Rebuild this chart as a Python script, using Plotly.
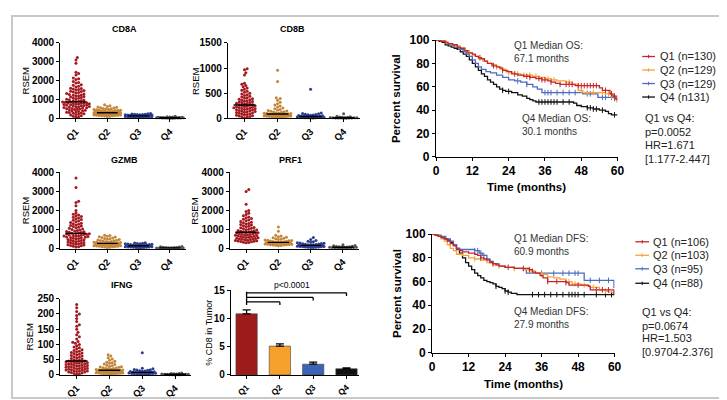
import numpy as np
import plotly.graph_objects as go

# ---------------- DATA ----------------
quartiles = ["Q1", "Q2", "Q3", "Q4"]

CD8A_Q1 = [3230, 3100, 2920, 2440, 2380, 2300, 2140, 2100, 2060, 1950, 1900, 1870, 1780, 1750, 1700, 1660, 1600, 1580, 1560, 1530, 1500, 1470, 1440, 1420, 1400, 1370, 1340, 1310, 1290, 1260, 1240, 1220, 1200, 1180, 1150, 1130, 1100, 1080, 1060, 1040, 1010, 990, 970, 950, 930, 910, 890, 870, 860, 850, 830, 820, 810, 800, 790, 775, 760, 745, 730, 715, 700, 690, 675, 660, 645, 630, 615, 600, 585, 570, 555, 540, 525, 510, 495, 480, 460, 440, 420, 400, 380, 360, 340, 320, 300, 280, 260, 240, 220, 200, 170, 140, 110, 80, 50]
CD8A_Q2 = [720, 660, 630, 600, 580, 560, 540, 525, 510, 495, 480, 465, 450, 440, 430, 420, 410, 400, 390, 380, 372, 365, 358, 350, 343, 336, 330, 323, 316, 310, 304, 298, 292, 286, 280, 275, 270, 265, 260, 255, 250, 245, 240, 235, 230, 225, 220, 214, 208, 202, 196, 190, 184, 178, 172, 166, 160, 152, 145, 138, 130, 120, 110, 100]
CD8A_Q3 = [255, 240, 228, 218, 210, 202, 195, 188, 182, 176, 170, 165, 160, 155, 150, 146, 142, 138, 134, 130, 126, 122, 119, 116, 113, 110, 106, 102, 98, 94, 90, 86, 82, 78, 74, 70, 65, 60, 55, 48]
CD8A_Q4 = [105, 82, 70, 62, 56, 50, 46, 42, 39, 36, 33, 31, 29, 27, 25, 23, 21, 19, 17, 15, 13, 11, 9, 7, 5]

CD8B_Q1 = [985, 965, 905, 860, 700, 680, 655, 630, 605, 580, 560, 540, 520, 500, 485, 470, 455, 440, 425, 410, 400, 390, 380, 370, 360, 350, 340, 332, 324, 316, 308, 300, 292, 284, 276, 268, 260, 252, 245, 238, 231, 225, 219, 213, 207, 201, 195, 189, 183, 177, 170, 163, 156, 149, 142, 135, 128, 121, 114, 107, 100, 92, 84, 76, 68, 60, 52, 44, 36, 28, 20, 12]
CD8B_Q2 = [955, 735, 410, 395, 360, 320, 290, 265, 245, 225, 205, 190, 175, 165, 155, 145, 138, 130, 124, 118, 112, 107, 102, 98, 94, 90, 87, 84, 81, 78, 75, 72, 70, 68, 66, 64, 62, 60, 58, 56, 54, 52, 50, 47, 44, 41, 38, 35, 32, 29, 26, 22, 18, 14]
CD8B_Q3 = [580, 105, 95, 88, 82, 76, 70, 64, 58, 54, 50, 46, 42, 39, 36, 33, 30, 28, 26, 24, 22, 20, 18, 16, 14, 12, 10, 8, 6, 4]
CD8B_Q4 = [92, 42, 32, 26, 22, 18, 15, 13, 11, 9, 8, 7, 6, 5, 4, 3, 2, 1]

GZMB_Q1 = [3700, 3200, 2480, 2420, 2250, 2000, 1860, 1800, 1760, 1720, 1680, 1640, 1600, 1560, 1520, 1480, 1440, 1400, 1360, 1330, 1300, 1270, 1240, 1210, 1180, 1150, 1120, 1090, 1060, 1030, 1000, 975, 950, 925, 900, 880, 860, 840, 820, 805, 790, 775, 760, 745, 730, 715, 700, 685, 670, 655, 640, 625, 610, 595, 580, 560, 540, 520, 500, 480, 460, 440, 420, 400, 380, 360, 340, 320, 300, 280, 260, 240, 220, 200, 180, 160, 140, 120, 100, 80]
GZMB_Q2 = [700, 680, 650, 620, 600, 575, 550, 530, 510, 490, 470, 450, 435, 420, 405, 390, 375, 360, 348, 336, 324, 312, 300, 290, 280, 270, 262, 254, 246, 238, 230, 222, 214, 206, 198, 190, 182, 174, 166, 158, 150, 142, 134, 126, 118, 110, 100, 90, 80, 70, 60]
GZMB_Q3 = [310, 295, 280, 268, 256, 245, 235, 225, 216, 208, 200, 192, 185, 178, 171, 165, 159, 153, 147, 141, 135, 129, 123, 117, 111, 105, 99, 93, 87, 81, 75, 69, 62, 55, 48, 40, 30]
GZMB_Q4 = [110, 90, 78, 68, 60, 54, 48, 43, 38, 34, 30, 27, 24, 21, 18, 15, 12, 9, 6, 3]

PRF1_Q1 = [3100, 2990, 2320, 2000, 1940, 1850, 1780, 1720, 1660, 1620, 1580, 1540, 1500, 1460, 1420, 1380, 1350, 1320, 1290, 1260, 1230, 1200, 1170, 1140, 1110, 1085, 1060, 1035, 1010, 990, 970, 950, 930, 910, 890, 875, 860, 845, 830, 815, 800, 785, 770, 755, 740, 725, 710, 695, 680, 665, 650, 635, 620, 605, 590, 575, 560, 545, 530, 515, 500, 485, 470, 455, 440, 425, 410, 395, 380, 365, 350, 335, 320, 305]
PRF1_Q2 = [1130, 910, 700, 660, 620, 590, 560, 535, 510, 490, 470, 452, 436, 420, 406, 392, 380, 368, 356, 345, 335, 325, 316, 308, 300, 292, 284, 276, 268, 260, 252, 244, 236, 228, 220, 212, 204, 196, 188, 180, 170, 160, 150]
PRF1_Q3 = [575, 470, 420, 380, 350, 325, 305, 288, 272, 258, 245, 233, 222, 212, 202, 193, 185, 177, 170, 163, 156, 150, 144, 138, 132, 126, 120, 114, 108, 102, 96, 90, 84, 78, 72, 66, 60, 54]
PRF1_Q4 = [200, 160, 140, 125, 112, 100, 92, 85, 78, 72, 66, 61, 56, 51, 46, 41, 36, 31, 26, 21, 16]

IFNG_Q1 = [231, 220, 208, 200, 195, 185, 175, 165, 160, 150, 140, 132, 125, 118, 110, 107, 104, 100, 96, 92, 89, 86, 83, 80, 78, 76, 74, 72, 70, 68, 66, 64, 62, 60, 58, 56, 54, 52, 50, 48.5, 47, 46, 45.5, 44, 43, 42.5, 41, 40, 39.5, 38, 37, 36.5, 35, 34, 33.5, 32, 31, 30.5, 29, 28, 27.5, 26, 25, 24.5, 23, 22, 21.5, 20, 19, 18.5, 17, 16, 15.5, 14, 13, 12.5, 11, 10, 9.5, 8, 6.5, 5, 3.5, 2]
IFNG_Q2 = [66, 62, 56, 52, 48, 45, 42, 40, 38, 36, 34, 32, 30, 28, 27, 26, 25, 24, 23, 22, 21, 20, 19, 18, 17, 16.5, 16, 15.5, 15, 14.5, 14, 13.5, 13, 12.5, 12, 11.5, 11, 10.5, 10, 9.5, 9, 8.5, 8, 7.5, 7, 6.5, 6, 5.5, 5, 4.5, 4, 3.5, 3, 2.5, 2]
IFNG_Q3 = [73, 22, 20, 18, 17, 16, 15, 14, 13, 12, 11, 10.5, 10, 9.5, 9, 8.5, 8, 7.5, 7, 6.5, 6, 5.5, 5, 4.5, 4, 3.5, 3, 2.5, 2, 1.5, 1]
IFNG_Q4 = [6, 5, 4.5, 4, 3.5, 3, 2.6, 2.2, 1.9, 1.6, 1.3, 1, 0.8, 0.6, 0.4, 0.2]

gene_names = ["CD8A", "CD8B", "GZMB", "PRF1", "IFNG"]
gene_ymax = [4000, 1500, 4000, 4000, 250]
gene_ticks = [[0, 1000, 2000, 3000, 4000], [0, 500, 1000, 1500], [0, 1000, 2000, 3000, 4000],
              [0, 1000, 2000, 3000, 4000], [0, 50, 100, 150, 200, 250]]
gene_data = [[CD8A_Q1, CD8A_Q2, CD8A_Q3, CD8A_Q4], [CD8B_Q1, CD8B_Q2, CD8B_Q3, CD8B_Q4],
             [GZMB_Q1, GZMB_Q2, GZMB_Q3, GZMB_Q4], [PRF1_Q1, PRF1_Q2, PRF1_Q3, PRF1_Q4],
             [IFNG_Q1, IFNG_Q2, IFNG_Q3, IFNG_Q4]]

# % CD8 in tumor (bar chart)
cd8_mean = [10.8, 5.1, 1.9, 1.1]
cd8_sem = [0.7, 0.4, 0.35, 0.15]
bracket_pairs = [(0, 1), (0, 2), (0, 3)]
bracket_heights = [12.9, 13.7, 14.5]
p_text = "p<0.0001"

# Kaplan-Meier OS (time in months, percent survival)
os_t = {
    "Q1": [0, 1.5, 3, 4, 5.5, 7, 8, 9.5, 10.5, 12, 13, 14, 15, 16, 17, 18.5, 20, 21, 22, 23.5, 25, 27, 29, 31, 33, 35, 37, 38, 39.5, 41, 46, 54, 55, 57.5, 58.5, 59.5, 60],
    "Q2": [0, 2, 3.5, 5, 6.5, 8, 9.5, 11, 12, 13, 14, 15.5, 17, 18.5, 20, 21.5, 23, 24, 26, 28, 32, 34, 36, 38, 40, 43, 45, 47, 48.5, 56, 58, 59.8, 60],
    "Q3": [0, 1.5, 3, 4.5, 6, 7.5, 9, 10, 11, 12, 13, 14, 15, 16.5, 18, 20, 22, 24, 26, 28, 30, 32, 33.5, 35, 48.5, 53.5, 59, 60],
    "Q4": [0, 1, 2, 3, 4, 5, 6, 7, 8, 9, 10, 11, 12, 13, 14, 15, 16, 17, 18, 19, 20, 21, 22, 23, 25, 27, 28.5, 30, 31, 32, 33, 45.5, 46.5, 48, 50, 52, 54, 56, 57, 58, 60],
}
os_s = {
    "Q1": [100, 99, 98, 97, 96, 94, 93, 91, 89, 88, 86, 85, 84, 82, 80, 78, 77, 76, 74, 73, 71, 70, 69, 68, 67, 66, 65, 64, 63, 62, 61, 59, 57, 54, 52, 49, 49],
    "Q2": [100, 99, 97, 96, 95, 93, 91, 89, 87, 86, 84, 82, 80, 79, 77, 75, 73, 72, 71, 70, 69, 68, 67, 66, 65, 64, 62, 57, 55, 54, 52, 47, 47],
    "Q3": [100, 99, 97, 96, 94, 92, 90, 88, 86, 83, 80, 77, 75, 73, 72, 70, 68, 66, 65, 64, 62, 60, 58, 55, 54, 51, 50, 50],
    "Q4": [100, 99, 98, 96, 95, 94, 93, 92, 90, 88, 86, 83, 80, 77, 74, 71, 69, 66, 64, 62, 60, 58, 57, 56, 55, 53, 52, 50, 49, 48, 47, 46, 44, 43, 42, 41, 40, 39, 37, 36, 36],
}
os_cens = {
    "Q1": [14.5, 19, 22, 26, 30, 31, 34, 35, 36, 38, 41, 43, 44, 45, 47, 48, 49, 50, 51, 52, 53, 56, 58, 59],
    "Q2": [20, 24, 27, 29, 31, 33, 37, 39, 44, 48, 50, 52, 55, 57, 58],
    "Q3": [27, 30, 36, 37, 38, 40, 42, 44, 46, 50, 51, 55, 56, 58, 59],
    "Q4": [22, 24, 34, 35, 36, 37, 38, 39, 40, 42, 44, 50, 51, 52, 53, 55, 59],
}
os_labels = ["Q1 (n=130)", "Q2 (n=129)", "Q3 (n=129)", "Q4 (n131)"]
os_stats = ["Q1 vs Q4:", "p=0.0052", "HR=1.671", "[1.177-2.447]"]
os_median = ["Q1 Median OS:", "67.1 months", "Q4 Median OS:", "30.1 months"]

dfs_t = {
    "Q1": [0, 1, 2, 3, 4, 5, 6, 7, 8, 9, 10, 12, 14, 15, 16, 17, 18, 19, 20, 21, 22, 24, 27, 32, 33, 34, 35.5, 36.5, 38, 44, 45, 51.5, 52, 59.8, 60],
    "Q2": [0, 1, 2, 3, 4, 5, 6, 7, 8, 10, 12, 14, 16, 18, 20, 22, 24, 27, 30, 32, 34, 36, 38, 40, 42, 44, 46, 49, 51, 52, 55, 57, 58, 59.5, 60],
    "Q3": [0, 1.5, 3, 4.5, 6, 7, 8, 9, 14, 15.5, 16.5, 18, 19, 20, 22, 24, 27, 30, 31, 50, 59.8, 60],
    "Q4": [0, 1, 2, 3, 4, 5, 6, 7, 8, 9, 10, 11, 12, 13, 14, 15, 16, 17, 18, 19, 20, 21, 22, 23, 24, 25, 26, 27.9, 60],
}
dfs_s = {
    "Q1": [100, 99, 98, 97, 96, 94, 92, 90, 87, 86, 85, 84, 83, 82, 80, 79, 78, 76, 75, 74, 73, 72, 71, 70, 68, 67, 65, 63, 60, 59, 57, 56, 53, 50, 50],
    "Q2": [100, 99, 98, 96, 94, 91, 88, 86, 83, 82, 80, 79, 78, 76, 74, 73, 72, 71, 70, 69, 67, 66, 64, 63, 62, 60, 58, 57, 56, 55, 53, 52, 51, 50, 50],
    "Q3": [100, 99, 98, 96, 94, 91, 88, 87, 86, 84, 82, 79, 77, 75, 73, 72, 71, 70, 67, 61, 55, 55],
    "Q4": [100, 99, 98, 97, 96, 95, 93, 91, 88, 84, 80, 76, 73, 70, 67, 65, 63, 61, 60, 59, 58, 56, 55, 54, 52, 51, 50, 49, 49],
}
dfs_cens = {
    "Q1": [16, 20, 25, 30, 32, 38, 41, 44, 48, 54, 56, 58],
    "Q2": [14, 22, 27, 33, 36, 45, 47, 50, 53, 57],
    "Q3": [14, 15, 16, 17, 36, 40, 43, 45, 47, 48, 52, 55, 58],
    "Q4": [21, 24, 25, 33, 35, 37, 39, 41, 43, 45, 46, 47, 48, 50, 54, 57, 59],
}
dfs_labels = ["Q1 (n=106)", "Q2 (n=103)", "Q3 (n=95)", "Q4 (n=88)"]
dfs_stats = ["Q1 vs Q4:", "p=0.0674", "HR=1.503", "[0.9704-2.376]"]
dfs_median = ["Q1 Median DFS:", "60.9 months", "Q4 Median DFS:", "27.9 months"]

# ---------------- STYLE ----------------
W, H = 727, 400
FONT = "Liberation Sans, Arial, sans-serif"
dot_colors = ["#a3191f", "#c4873a", "#2a3d8f", "#555555"]
bar_colors = ["#9c1c1c", "#f5a12b", "#3d63b6", "#111111"]
km_colors = {"Q1": "#c1272d", "Q2": "#f7a23b", "Q3": "#4a6cc0", "Q4": "#111111"}

def fx(px):
    return px / W

def fy(py):
    return 1 - py / H

# pixel boxes: (x_left, x_right, y_top, y_bottom)
gene_boxes = [(50, 177, 29, 107), (220, 354, 29, 107), (50, 177, 163, 242),
              (222, 353, 163, 242), (50, 183, 294, 373)]
gene_title_pos = [(115, 15), (285, 15), (115, 150), (283, 150), (113, 280)]
rsem_x = [15, 187, 15, 186, 19]
bar_box = (223, 353, 285, 373)
os_box = (431, 615, 26, 147)
dfs_box = (427, 612, 227, 350)


def swarm(vals, ymax, h_px, w_px, d=2.7, maxhw=14.0):
    ys = np.asarray(vals, dtype=float) / ymax * h_px
    order = np.argsort(ys)
    cands = [0.0]
    k = 1
    while k * d / 2 <= maxhw:
        cands += [k * d / 2, -k * d / 2]
        k += 1
    placed = []
    xs = np.zeros(len(ys))
    for i in order:
        y = ys[i]
        near = [(px, py) for px, py in placed if abs(py - y) < d]
        chosen, best, bestc = None, -1.0, 0.0
        for c in cands:
            md = min((np.hypot(c - px, y - py) for px, py in near), default=99.0)
            if md >= d:
                chosen = c
                break
            if md > best:
                best, bestc = md, c
        if chosen is None:
            chosen = bestc
        xs[i] = chosen
        placed.append((chosen, y))
    return xs / (w_px / 4.0)


fig = go.Figure()
layout = {}
axis_common = dict(showline=True, linecolor="black", linewidth=1.3, ticks="outside",
                   ticklen=3, tickwidth=1.3, tickcolor="black", showgrid=False,
                   zeroline=False, fixedrange=True)
annotations = []
shapes = []

def ann(x, y, text, size, bold=False, angle=0, xanchor="center", yanchor="middle", color="black"):
    annotations.append(dict(x=fx(x), y=fy(y), xref="paper", yref="paper", text=text,
                            showarrow=False, textangle=angle, xanchor=xanchor, yanchor=yanchor,
                            borderpad=0,
                            font=dict(family=FONT, size=size, color=color,
                                      weight="bold" if bold else "normal")))

# ---- gene dot plots ----
for gi, (name, ymax, ticks, data, box) in enumerate(zip(gene_names, gene_ymax, gene_ticks, gene_data, gene_boxes)):
    n = gi + 1
    xa, ya = f"x{n}", f"y{n}"
    x0, x1, yt, yb = box
    w_px, h_px = x1 - x0, yb - yt
    for qi, vals in enumerate(data):
        offs = swarm(vals, ymax, h_px, w_px)
        fig.add_trace(go.Scatter(x=qi + offs, y=vals, mode="markers", xaxis=xa, yaxis=ya,
                                 marker=dict(size=3, color=dot_colors[qi], line=dict(width=0)),
                                 cliponaxis=False, showlegend=False, hoverinfo="skip"))
    for qi, vals in enumerate(data):
        med = float(np.median(vals))
        fig.add_trace(go.Scatter(x=[qi - 0.33, qi + 0.33], y=[med, med], mode="lines",
                                 xaxis=xa, yaxis=ya, line=dict(color="black", width=1.4),
                                 cliponaxis=False, showlegend=False, hoverinfo="skip"))
    layout[f"xaxis{n}"] = dict(axis_common, domain=[fx(x0), fx(x1)], anchor=ya, range=[-0.5, 3.5],
                               tickvals=[0, 1, 2, 3], ticktext=quartiles, tickangle=-45,
                               tickfont=dict(family=FONT, size=9.5, color="black", weight="bold"))
    layout[f"yaxis{n}"] = dict(axis_common, domain=[fy(yb), fy(yt)], anchor=xa, range=[0, ymax],
                               tickvals=ticks,
                               tickfont=dict(family=FONT, size=10, color="black", weight="bold"))
    tx, ty = gene_title_pos[gi]
    ann(tx, ty, name, 9, bold=True)
    ann(rsem_x[gi], (yt + yb) / 2, "RSEM", 9.5, angle=-90)

# ---- bar chart ----
x0, x1, yt, yb = bar_box
fig.add_trace(go.Bar(x=[0, 1, 2, 3], y=cd8_mean, xaxis="x6", yaxis="y6", width=0.64,
                     marker=dict(color=bar_colors, line=dict(color="#444", width=0.6)),
                     error_y=dict(type="data", symmetric=False, array=cd8_sem, arrayminus=[0] * 4,
                                  color="black", thickness=1.3, width=4),
                     showlegend=False, hoverinfo="skip"))
layout["xaxis6"] = dict(axis_common, domain=[fx(x0), fx(x1)], anchor="y6", range=[-0.47, 3.38],
                        tickvals=[0, 1, 2, 3], ticktext=quartiles, tickangle=-45,
                        tickfont=dict(family=FONT, size=8.5, color="black", weight="bold"))
layout["yaxis6"] = dict(axis_common, domain=[fy(yb), fy(yt)], anchor="x6", range=[0, 15],
                        tickvals=[0, 5, 10, 15],
                        tickfont=dict(family=FONT, size=10, color="black", weight="bold"))
for (a, b), h in zip(bracket_pairs, bracket_heights):
    shapes.append(dict(type="line", xref="x6", yref="y6", x0=a, x1=b, y0=h, y1=h,
                       line=dict(color="black", width=1.3)))
    shapes.append(dict(type="line", xref="x6", yref="y6", x0=b, x1=b, y0=h, y1=h - 0.55,
                       line=dict(color="black", width=1.3)))
shapes.append(dict(type="line", xref="x6", yref="y6", x0=0, x1=0, y0=min(bracket_heights) - 0.55,
                   y1=max(bracket_heights) + 0.2, line=dict(color="black", width=1.3)))
ann(285, 280, p_text, 8.5)
ann(201, (yt + yb) / 2, "% CD8 in Tumor", 9, angle=-90)

# ---- KM plots ----
def km_panel(n, box, tdict, sdict, cdict, labels, stats, med, leg, stat_pos, med_pos, xtitle_pos, ytitle_x):
    xa, ya = f"x{n}", f"y{n}"
    x0, x1, yt, yb = box
    for q in ["Q1", "Q2", "Q3", "Q4"][::-1]:
        t = np.array(tdict[q], dtype=float)
        s = np.array(sdict[q], dtype=float)
        fig.add_trace(go.Scatter(x=t, y=s, mode="lines", line_shape="hv", xaxis=xa, yaxis=ya,
                                 line=dict(color=km_colors[q], width=1.3),
                                 showlegend=False, hoverinfo="skip"))
        ct = np.array(cdict[q], dtype=float)
        idx = np.searchsorted(t, ct, side="right") - 1
        fig.add_trace(go.Scatter(x=ct, y=s[idx], mode="markers", xaxis=xa, yaxis=ya,
                                 marker=dict(symbol="line-ns", size=4,
                                             line=dict(width=1, color=km_colors[q])),
                                 showlegend=False, hoverinfo="skip"))
    layout[f"xaxis{n}"] = dict(axis_common, domain=[fx(x0), fx(x1)], anchor=ya, range=[0, 60],
                               tickvals=[0, 12, 24, 36, 48, 60],
                               tickfont=dict(family=FONT, size=12, color="black", weight="bold"))
    layout[f"yaxis{n}"] = dict(axis_common, domain=[fy(yb), fy(yt)], anchor=xa, range=[0, 100],
                               tickvals=[0, 20, 40, 60, 80, 100],
                               tickfont=dict(family=FONT, size=12, color="black", weight="bold"))
    ann(xtitle_pos[0], xtitle_pos[1], "Time (months)", 11.5, bold=True)
    ann(ytitle_x, (yt + yb) / 2, "Percent survival", 11.5, bold=True, angle=-90)
    lx0, lx1, ltx, lys = leg
    for q, lab, ly in zip(["Q1", "Q2", "Q3", "Q4"], labels, lys):
        shapes.append(dict(type="line", xref="paper", yref="paper", x0=fx(lx0), x1=fx(lx1),
                           y0=fy(ly), y1=fy(ly), line=dict(color=km_colors[q], width=1.3)))
        xm = (lx0 + lx1) / 2
        shapes.append(dict(type="line", xref="paper", yref="paper", x0=fx(xm), x1=fx(xm),
                           y0=fy(ly - 1.8), y1=fy(ly + 1.8), line=dict(color=km_colors[q], width=1)))
        ann(ltx, ly, lab, 11, xanchor="left", color="#222")
    sx, sys_ = stat_pos
    for txt, sy in zip(stats, sys_):
        ann(sx, sy, txt, 11, xanchor="left", color="#222")
    for txt, (mx, my) in zip(med, med_pos):
        ann(mx, my, txt, 10, xanchor="left", color="#333")


km_panel(7, os_box, os_t, os_s, os_cens, os_labels, os_stats, os_median,
         (640, 653, 657, [43, 57, 71, 85]), (642, [107, 121, 135, 149]),
         [(509, 32), (509, 45), (517, 107), (517, 121)], (523, 178), 391)
km_panel(8, dfs_box, dfs_t, dfs_s, dfs_cens, dfs_labels, dfs_stats, dfs_median,
         (633, 647, 650, [235, 249, 263, 278]), (639, [308, 322, 335, 349]),
         [(509, 232), (509, 245), (509, 307), (509, 321)], (520, 382), 392)

# frame
shapes.append(dict(type="rect", xref="paper", yref="paper", x0=fx(1), x1=fx(723), y0=fy(397), y1=fy(1),
                   line=dict(color="#c8c8c8", width=2), layer="below"))

fig.update_layout(width=W, height=H, margin=dict(l=0, r=0, t=0, b=0), paper_bgcolor="white",
                  plot_bgcolor="rgba(0,0,0,0)", showlegend=False, bargap=0.3,
                  annotations=annotations, shapes=shapes, **layout)
fig.write_html("out.html")
